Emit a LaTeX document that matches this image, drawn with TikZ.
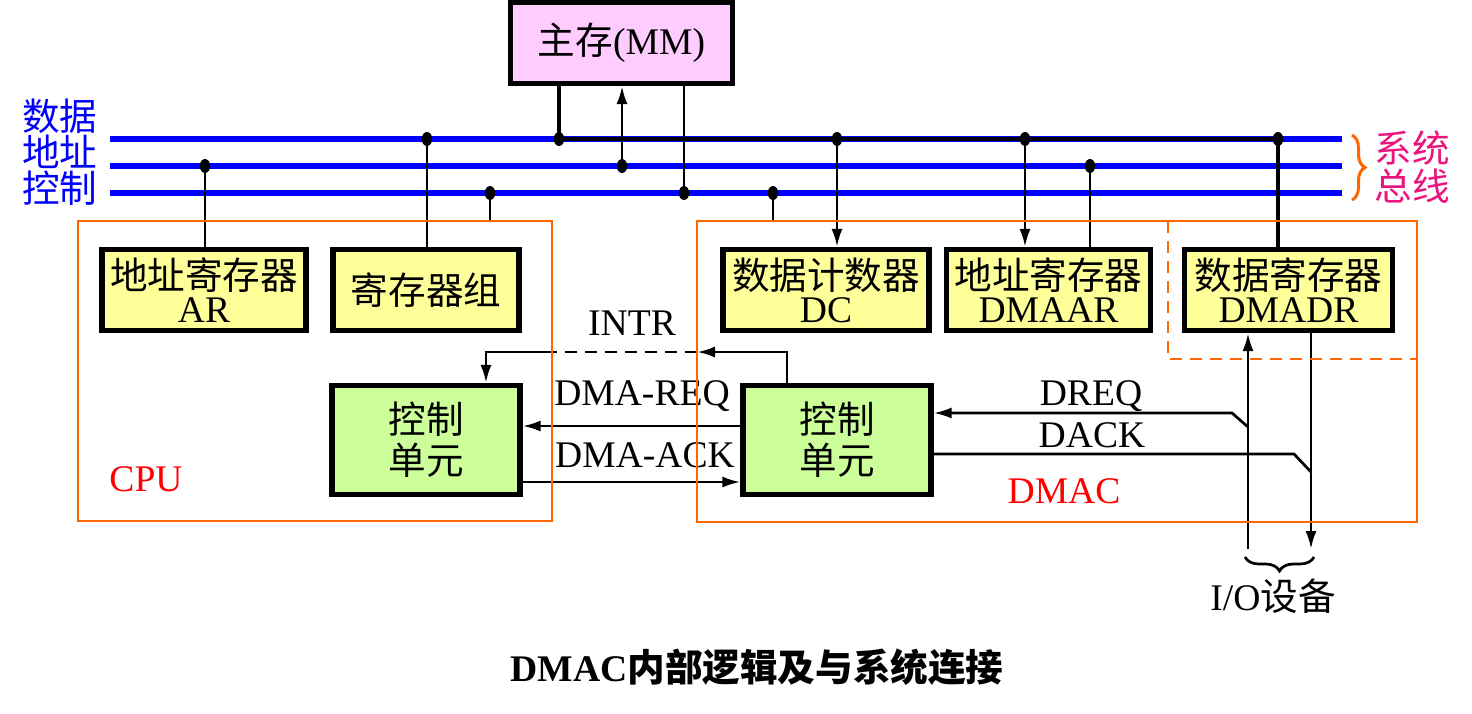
\documentclass[tikz,border=0pt]{standalone}
\usepackage{fontspec}
\setmainfont{Liberation Serif}
\newfontfamily\cjk{Noto Sans CJK SC}
\usetikzlibrary{arrows.meta,shapes.geometric,decorations.pathreplacing}

\definecolor{busblue}{RGB}{0,0,255}
\definecolor{lineorange}{RGB}{255,102,0}
\definecolor{syspink}{RGB}{235,20,125}
\definecolor{mmfill}{RGB}{255,204,255}
\definecolor{regfill}{RGB}{255,255,153}
\definecolor{cufill}{RGB}{204,255,153}

\tikzset{
  txt/.style={font=\fontsize{18.8}{18.8}\selectfont},
  box/.style={draw,line width=2.6pt,inner sep=0pt,align=center,txt},
  regbox/.style={box,fill=regfill,minimum height=40.5pt,font=\fontsize{18.8}{16.5}\selectfont},
  cubox/.style={box,fill=cufill,minimum width=94pt,minimum height=54.5pt,font=\fontsize{18.8}{20.5}\selectfont},
  unitframe/.style={draw=lineorange,line width=1.3pt,inner sep=0pt},
  bus/.style={busblue,line width=3pt},
  wire/.style={line width=1.35pt},
  heavy/.style={line width=1.9pt},
  arr/.style={wire,-{Latex[length=9pt,width=5.5pt]}},
  junc/.style={ellipse,fill,inner sep=0pt,minimum width=5.2pt,minimum height=7pt},
  lbl/.style={txt,anchor=base,inner sep=0pt}
}

\begin{document}
\begin{tikzpicture}[x=0.5pt,y=-0.5pt]
\useasboundingbox (0,0) rectangle (1472,713);

% system bus
\coordinate (dataL) at (110,139);  \coordinate (dataR) at (1342,139);
\coordinate (addrL) at (110,166);  \coordinate (addrR) at (1342,166);
\coordinate (ctrlL) at (110,193);  \coordinate (ctrlR) at (1342,193);
\draw[bus] (dataL) -- (dataR);
\draw[bus] (addrL) -- (addrR);
\draw[bus] (ctrlL) -- (ctrlR);
\node[txt,text=busblue] (ldata) at (60,116) {\cjk 数据};
\node[txt,text=busblue] (laddr) at (60,152) {\cjk 地址};
\node[txt,text=busblue] (lctrl) at (60,188) {\cjk 控制};
\draw[lineorange,line width=1.5pt,decorate,decoration={brace,amplitude=6.5pt}] (1352,135) -- (1352,200);
\node[txt,text=syspink,align=center] (sysbus) at (1412,167) {{\cjk 系统}\\{\cjk 总线}};

% main memory and registers
\node[box,fill=mmfill,minimum width=111pt,minimum height=40.4pt] (mm) at (621.5,43) {{\cjk 主存}(MM)};
\node[regbox,minimum width=102pt] (ar) at (204,290) {{\cjk 地址寄存器}\\AR};
\node[regbox,minimum width=93pt] (regs) at (426,290) {\cjk 寄存器组};
\node[regbox,minimum width=103pt] (dc) at (826,290) {{\cjk 数据计数器}\\DC};
\node[regbox,minimum width=102pt] (dmaar) at (1048.5,290) {{\cjk 地址寄存器}\\DMAAR};
\node[regbox,minimum width=104pt] (dmadr) at (1288.5,290) {{\cjk 数据寄存器}\\DMADR};
\node[cubox] (cpucu) at (426,440) {{\cjk 控制}\\{\cjk 单元}};
\node[cubox] (dmaccu) at (837,440) {{\cjk 控制}\\{\cjk 单元}};

% bus taps
\node[junc] (jMMd) at (559,139) {};
\node[junc] (jMMa) at (622,166) {};
\node[junc] (jMMc) at (684,193) {};
\node[junc] (jAR) at (205,166) {};
\node[junc] (jREG) at (427,139) {};
\node[junc] (jCPU) at (490,193) {};
\node[junc] (jDMAC) at (773,193) {};
\node[junc] (jDC) at (837,139) {};
\node[junc] (jDAd) at (1025,139) {};
\node[junc] (jDAa) at (1090,166) {};
\node[junc] (jDR) at (1278,139) {};

\draw[heavy] (jMMd.center) -- (jDR.center);
\draw[heavy] (mm.south -| jMMd) -- (jMMd.center);
\draw[arr] (jMMa.center) -- (mm.south -| jMMa);
\draw[wire] (mm.south -| jMMc) -- (jMMc.center);
\draw[wire] (jAR.center) -- (ar.north -| jAR);
\draw[wire] (jREG.center) -- (regs.north -| jREG);
\draw[wire] (jCPU.center) -- (490,221);
\draw[wire] (jDMAC.center) -- (773,221);
\draw[arr] (jDC.center) -- (dc.north -| jDC);
\draw[arr] (jDAd.center) -- (dmaar.north -| jDAd);
\draw[wire] (jDAa.center) -- (dmaar.north -| jDAa);
\draw[heavy] (jDR.center) -- (dmadr.north -| jDR);

% INTR, DMA-REQ, DMA-ACK
\coordinate (intrR) at (787,352);
\coordinate (intrM) at (697,352);
\coordinate (intrC) at (552,352);
\coordinate (intrL) at (486,352);
\draw[arr] (dmaccu.north -| intrR) -- (intrR) -- (intrM);
\draw[wire,dash pattern=on 6pt off 4pt] (intrM) -- (intrC);
\draw[arr] (intrC) -- (intrL) -- (cpucu.north -| intrL);
\node[lbl] (intr) at (632,335) {INTR};
\draw[arr] ([yshift=7pt]dmaccu.west) -- ([yshift=7pt]cpucu.east);
\draw[arr] ([yshift=-21pt]cpucu.east) -- ([yshift=-21pt]dmaccu.west);
\node[lbl] (req) at (642,405) {DMA-REQ};
\node[lbl] (ack) at (645,467) {DMA-ACK};

% DREQ, DACK, I/O
\coordinate (ioIn) at (1248,549);
\coordinate (ioOut) at (1311,549);
\draw[arr] (ioIn) -- (dmadr.south -| ioIn);
\draw[arr] (dmadr.south -| ioOut) -- (ioOut);
\coordinate (dreqJ) at (1248,427);
\coordinate (dreqK) at (1232,413);
\draw[arr] (dreqJ) -- (dreqK) -- (dmaccu.east |- dreqK);
\coordinate (dackK) at (1294,454);
\coordinate (dackJ) at (1311,472);
\draw[wire] (dmaccu.east |- dackK) -- (dackK) -- (dackJ);
\node[lbl] (dreq) at (1091,405) {DREQ};
\node[lbl] (dack) at (1092,447) {DACK};
\draw[wire,decorate,decoration={brace,mirror,amplitude=7pt}] (1245,557) -- (1314,557);
\node[txt] (io) at (1273,596) {I/O{\cjk 设备}};

% CPU and DMAC frames
\node[unitframe,minimum width=237pt,minimum height=150pt] (cpu) at (315,371) {};
\node[unitframe,minimum width=360pt,minimum height=150.5pt] (dmac) at (1057,371.5) {};
\draw[unitframe,dash pattern=on 6pt off 4pt] (1168,221) -- (1168,359) -- (1417,359);
\node[lbl,text=red] (cpulbl) at (146,491) {CPU};
\node[lbl,text=red] (dmaclbl) at (1064,503) {DMAC};

\node[txt,font=\fontsize{18.8}{18.8}\selectfont\bfseries] (title) at (757,667) {DMAC{\cjk 内部逻辑及与系统连接}};
\end{tikzpicture}
\end{document}
